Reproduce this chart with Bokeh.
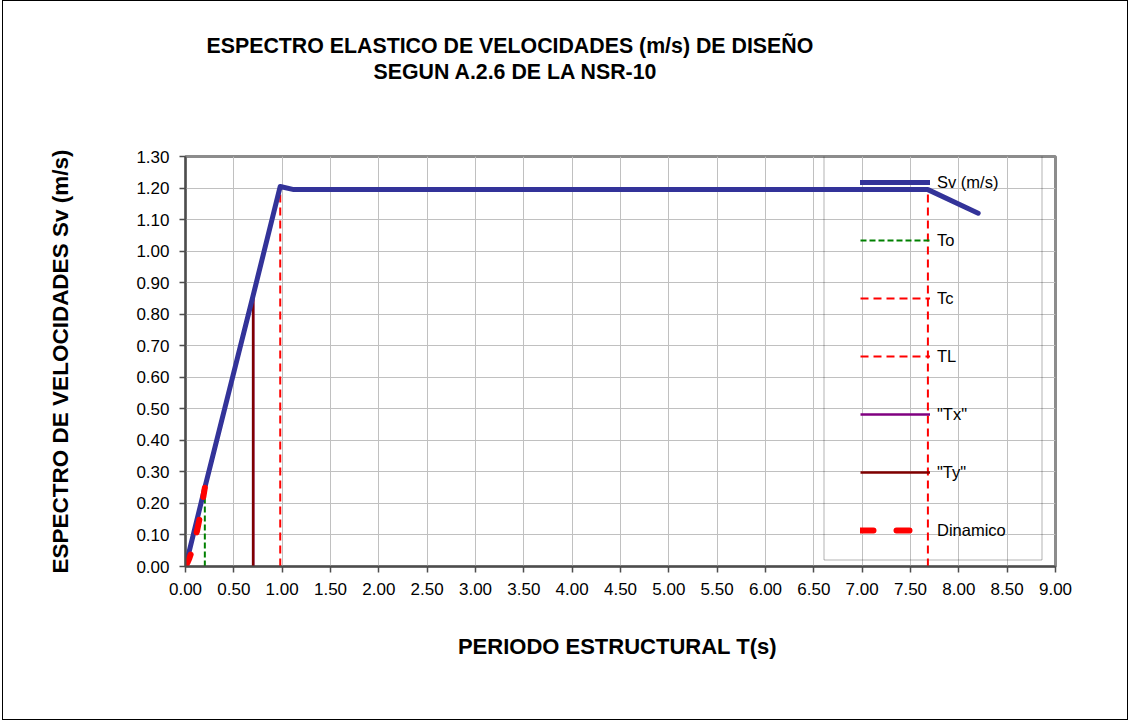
from bokeh.plotting import figure
from bokeh.models import (Range1d, FixedTicker, NumeralTickFormatter, Title,
                          Legend, LegendItem, BoxAnnotation)
from bokeh.embed import file_html
from bokeh.resources import INLINE

# ---------------- data ----------------
T_sv = [0.00, 0.20, 0.70, 0.98, 1.12, 7.68, 8.20]
Sv = [0.000, 0.250, 0.860, 1.205, 1.195, 1.195, 1.120]

T_din = [0.00, 0.02, 0.04, 0.06, 0.08, 0.10, 0.12, 0.14, 0.16, 0.18, 0.20]
Sv_din = [0.000, 0.012, 0.026, 0.044, 0.064, 0.088, 0.114, 0.144, 0.176, 0.212, 0.250]

To_x = [0.20, 0.20]
To_y = [0.00, 0.245]
Tc_x = [0.98, 0.98]
Tc_y = [0.00, 1.205]
TL_x = [7.68, 7.68]
TL_y = [0.00, 1.195]
Tx_x = [0.70, 0.70]
Tx_y = [0.00, 0.855]
Ty_x = [0.70, 0.70]
Ty_y = [0.00, 0.855]

x_ticks = [i * 0.5 for i in range(19)]
y_ticks = [i * 0.1 for i in range(14)]

title_1 = "ESPECTRO ELASTICO DE VELOCIDADES (m/s) DE DISEÑO"
title_2 = "SEGUN A.2.6 DE LA NSR-10"
x_title = "PERIODO ESTRUCTURAL  T(s)"
y_title = "ESPECTRO DE VELOCIDADES Sv (m/s)"

FONT = "Liberation Sans"

p = figure(width=1126, height=720, output_backend="svg", toolbar_location=None,
           x_range=Range1d(0, 9), y_range=Range1d(0, 1.3),
           min_border_left=182, min_border_right=74,
           min_border_top=155, min_border_bottom=155)
p.styles = {"border": "1px solid #000000", "margin-left": "2px"}
p.background_fill_color = "white"
p.border_fill_color = "white"
p.outline_line_color = "#8c8c8c"
p.outline_line_width = 3

for ax in (p.xaxis[0], p.yaxis[0]):
    ax.axis_line_color = "#4d4d4d"
    ax.axis_line_width = 2
    ax.major_tick_line_color = "#4d4d4d"
    ax.major_tick_line_width = 1.5
    ax.major_tick_out = 6
    ax.major_tick_in = 0
    ax.minor_tick_line_color = None
    ax.major_label_text_font = FONT
    ax.major_label_text_font_size = "17px"
    ax.major_label_text_color = "black"
    ax.formatter = NumeralTickFormatter(format="0.00")
    ax.axis_label_text_font = FONT
    ax.axis_label_text_font_style = "bold"
    ax.axis_label_text_color = "black"
p.xaxis[0].ticker = FixedTicker(ticks=x_ticks)
p.yaxis[0].ticker = FixedTicker(ticks=y_ticks)
p.xaxis[0].major_label_standoff = 10
p.yaxis[0].major_label_standoff = 10

p.xaxis[0].axis_label = x_title
p.xaxis[0].axis_label_text_font_size = "22px"
p.xaxis[0].axis_label_standoff = 36
p.yaxis[0].axis_label = y_title
p.yaxis[0].axis_label_text_font_size = "22.5px"
p.yaxis[0].axis_label_standoff = 60

p.xgrid.grid_line_color = "#c0c0c0"
p.ygrid.grid_line_color = "#c0c0c0"
p.xgrid.grid_line_width = 1
p.ygrid.grid_line_width = 1

# blank spacer panel between the frame and the two title lines
p.add_layout(Title(text=" ", standoff=70, text_font_size="1px",
                   text_color="white"), "above")
# titles: line 2 nearest to the frame, line 1 above it
p.add_layout(Title(text=title_2, align="left", offset=188, standoff=0,
                   text_font=FONT, text_font_style="bold",
                   text_font_size="16pt", text_color="black"), "above")
p.add_layout(Title(text=title_1, align="left", offset=21, standoff=0,
                   text_font=FONT, text_font_style="bold",
                   text_font_size="16pt", text_color="black"), "above")

# legend frame (drawn under the glyphs)
box = BoxAnnotation(left=638.5, right=856.5, top=412.5, bottom=6.5,
                    left_units="screen", right_units="screen",
                    top_units="screen", bottom_units="screen",
                    fill_alpha=0, line_color="black", line_width=1,
                    level="underlay")
p.add_layout(box)

r_to = p.line(To_x, To_y, line_color="#008000", line_width=2, line_dash="6 3")
r_tc = p.line(Tc_x, Tc_y, line_color="#ff0000", line_width=2, line_dash="8 5")
r_tl = p.line(TL_x, TL_y, line_color="#ff0000", line_width=2, line_dash="8 5")
r_tx = p.line(Tx_x, Tx_y, line_color="#800080", line_width=2.5)
r_ty = p.line(Ty_x, Ty_y, line_color="#800000", line_width=2.5)
r_sv = p.line(T_sv, Sv, line_color="#333399", line_width=5,
              line_join="round", line_cap="round")
r_din = p.line(T_din, Sv_din, line_color="#ff0000", line_width=6,
               line_dash="13 23", line_cap="round")

legend = Legend(items=[
    LegendItem(label="Sv (m/s)", renderers=[r_sv]),
    LegendItem(label="To", renderers=[r_to]),
    LegendItem(label="Tc", renderers=[r_tc]),
    LegendItem(label="TL", renderers=[r_tl]),
    LegendItem(label='"Tx"', renderers=[r_tx]),
    LegendItem(label='"Ty"', renderers=[r_ty]),
    LegendItem(label="Dinamico", renderers=[r_din]),
], location=(638, -13), orientation="vertical")
legend.padding = 37
legend.margin = 0
legend.spacing = 34
legend.glyph_height = 24
legend.glyph_width = 70
legend.label_standoff = 7
legend.label_height = 20
legend.label_text_font = FONT
legend.label_text_font_size = "16.5px"
legend.label_text_color = "black"
legend.background_fill_alpha = 0
legend.border_line_alpha = 0
legend.inactive_fill_alpha = 0
p.add_layout(legend, "center")

open("out.html", "w").write(file_html(p, INLINE))
